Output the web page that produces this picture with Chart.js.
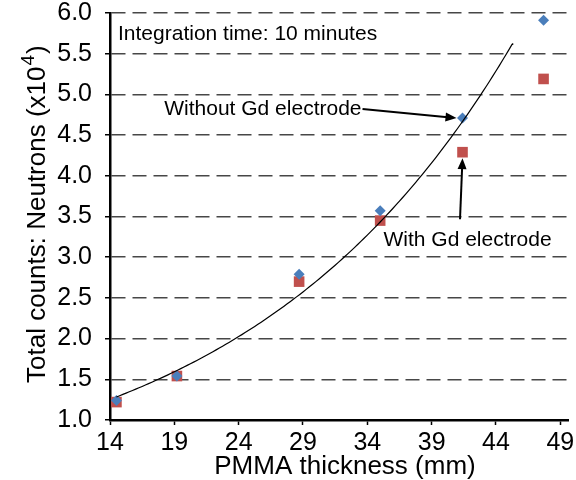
<!DOCTYPE html>
<html>
<head>
<meta charset="utf-8">
<title>Neutron counts vs PMMA thickness</title>
<script src="https://cdn.jsdelivr.net/npm/chart.js@4.4.1/dist/chart.umd.min.js"></script>
<style>
  html, body { margin: 0; padding: 0; background: #fff; }
  canvas { display: block; }
</style>
</head>
<body>
<canvas id="countsChart" width="576" height="480"></canvas>
<script>
// PMMA thickness (mm) and total neutron counts (x10^4)
const thickness = [14.5, 19.2, 28.7, 35.0, 41.4, 47.7];
const withoutGd = [1.24, 1.54, 2.79, 3.57, 4.71, 5.91];
const withGd = [1.22, 1.54, 2.70, 3.45, 4.29, 5.19];

const xTicks = [14, 19, 24, 29, 34, 39, 44, 49];
const yTicks = [1.0, 1.5, 2.0, 2.5, 3.0, 3.5, 4.0, 4.5, 5.0, 5.5, 6.0];

// the trendline stops a little short of the last sample
const trendEnd = 45.3;

const FONT = "'Liberation Sans', Arial, sans-serif";

// least squares fit of y = a * exp(b x)
function expFit(xs, ys) {
  const n = xs.length;
  const ly = ys.map(Math.log);
  const mx = xs.reduce((s, v) => s + v, 0) / n;
  const my = ly.reduce((s, v) => s + v, 0) / n;
  let sxy = 0, sxx = 0;
  xs.forEach((x, i) => {
    sxy += (x - mx) * (ly[i] - my);
    sxx += (x - mx) * (x - mx);
  });
  const b = sxy / sxx;
  return { a: Math.exp(my - b * mx), b };
}

const fit = expFit(thickness, withoutGd);
const trend = [];
for (let t = thickness[0]; t < trendEnd; t += 0.25) {
  trend.push({ x: t, y: fit.a * Math.exp(fit.b * t) });
}
trend.push({ x: trendEnd, y: fit.a * Math.exp(fit.b * trendEnd) });

const toPoints = (ys) => ys.map((v, i) => ({ x: thickness[i], y: v }));

function arrow(ctx, x1, y1, x2, y2) {
  const ang = Math.atan2(y2 - y1, x2 - x1);
  const len = 11, half = 4.5;
  ctx.beginPath();
  ctx.moveTo(x1, y1);
  ctx.lineTo(x2 - Math.cos(ang) * len * 0.8, y2 - Math.sin(ang) * len * 0.8);
  ctx.stroke();
  ctx.beginPath();
  ctx.moveTo(x2, y2);
  ctx.lineTo(x2 - Math.cos(ang) * len - Math.sin(ang) * half, y2 - Math.sin(ang) * len + Math.cos(ang) * half);
  ctx.lineTo(x2 - Math.cos(ang) * len + Math.sin(ang) * half, y2 - Math.sin(ang) * len - Math.cos(ang) * half);
  ctx.closePath();
  ctx.fill();
}

// axis titles and the text callouts
const extras = {
  id: 'extras',
  afterDraw(chart) {
    const { ctx, chartArea, scales: { x, y } } = chart;
    ctx.save();
    ctx.fillStyle = '#000';
    ctx.strokeStyle = '#000';

    // y title, with the exponent raised
    ctx.save();
    ctx.translate(45, 383);
    ctx.rotate(-Math.PI / 2);
    ctx.textAlign = 'left';
    ctx.textBaseline = 'alphabetic';
    const main = 'Total counts: Neutrons (x10';
    ctx.font = '26px ' + FONT;
    ctx.fillText(main, 0, 0);
    let w = ctx.measureText(main).width;
    ctx.font = '19px ' + FONT;
    ctx.fillText('4', w + 1, -11);
    w += ctx.measureText('4').width + 2;
    ctx.font = '26px ' + FONT;
    ctx.fillText(')', w, 0);
    ctx.restore();

    // x title
    ctx.font = '26px ' + FONT;
    ctx.textAlign = 'center';
    ctx.textBaseline = 'alphabetic';
    ctx.fillText('PMMA thickness (mm)', 345, 474);

    // notes inside the plot
    ctx.font = '21px ' + FONT;
    ctx.textAlign = 'left';
    ctx.fillText('Integration time: 10 minutes', chartArea.left + 8, 40);

    const bx = x.getPixelForValue(thickness[4]);
    const by = y.getPixelForValue(withoutGd[4]);
    ctx.textAlign = 'right';
    ctx.textBaseline = 'middle';
    ctx.fillText('Without Gd electrode', bx - 101, by - 9);
    ctx.lineWidth = 2;
    arrow(ctx, bx - 100, by - 9, bx - 6, by);

    const rx = x.getPixelForValue(thickness[4]);
    const ry = y.getPixelForValue(withGd[4]);
    ctx.textAlign = 'left';
    ctx.textBaseline = 'alphabetic';
    ctx.fillText('With Gd electrode', rx - 79, ry + 94);
    arrow(ctx, rx - 2.5, ry + 67, rx, ry + 6);

    ctx.restore();
  }
};

new Chart(document.getElementById('countsChart'), {
  type: 'scatter',
  data: {
    datasets: [
      {
        label: 'Exponential fit',
        data: trend,
        showLine: true,
        borderColor: '#000',
        borderWidth: 1.2,
        pointRadius: 0,
        fill: false
      },
      {
        label: 'Without Gd electrode',
        data: toPoints(withoutGd),
        pointStyle: 'rectRot',
        pointRadius: 5.5,
        backgroundColor: '#4A7EBB',
        borderColor: '#4A7EBB',
        borderWidth: 0
      },
      {
        label: 'With Gd electrode',
        data: toPoints(withGd),
        pointStyle: 'rect',
        pointRadius: 7.5,
        backgroundColor: '#C0504D',
        borderColor: '#C0504D',
        borderWidth: 0
      }
    ]
  },
  options: {
    responsive: false,
    animation: false,
    layout: { padding: { top: 13, right: 8, left: 0, bottom: 0 } },
    plugins: {
      legend: { display: false },
      tooltip: { enabled: false }
    },
    scales: {
      x: {
        type: 'linear',
        min: 14,
        max: 49.6,
        afterBuildTicks: (s) => { s.ticks = xTicks.map(v => ({ value: v })); },
        afterFit: (s) => { s.height = 60; s.paddingLeft = 0; s.paddingRight = 0; },
        ticks: {
          color: '#000',
          padding: 3,
          font: { family: FONT, size: 25 },
          callback: (v) => v
        },
        grid: {
          drawOnChartArea: false,
          drawTicks: true,
          tickLength: 5,
          tickWidth: 1.5,
          tickColor: '#000'
        },
        border: { display: true, color: '#000', width: 2.5 }
      },
      y: {
        type: 'linear',
        min: 1,
        max: 6,
        afterBuildTicks: (s) => { s.ticks = yTicks.map(v => ({ value: v })); },
        afterFit: (s) => { s.width = 110; s.paddingTop = 0; s.paddingBottom = 0; },
        ticks: {
          color: '#000',
          padding: 13,
          font: { family: FONT, size: 25 },
          callback: (v) => v.toFixed(1)
        },
        grid: {
          color: '#474747',
          lineWidth: 1.5,
          drawTicks: true,
          tickLength: 5,
          tickWidth: 1.5,
          tickColor: '#000',
          tickBorderDash: []
        },
        border: { display: true, color: '#000', width: 2.5, dash: [14, 7] }
      }
    }
  },
  plugins: [extras]
});
</script>
</body>
</html>
